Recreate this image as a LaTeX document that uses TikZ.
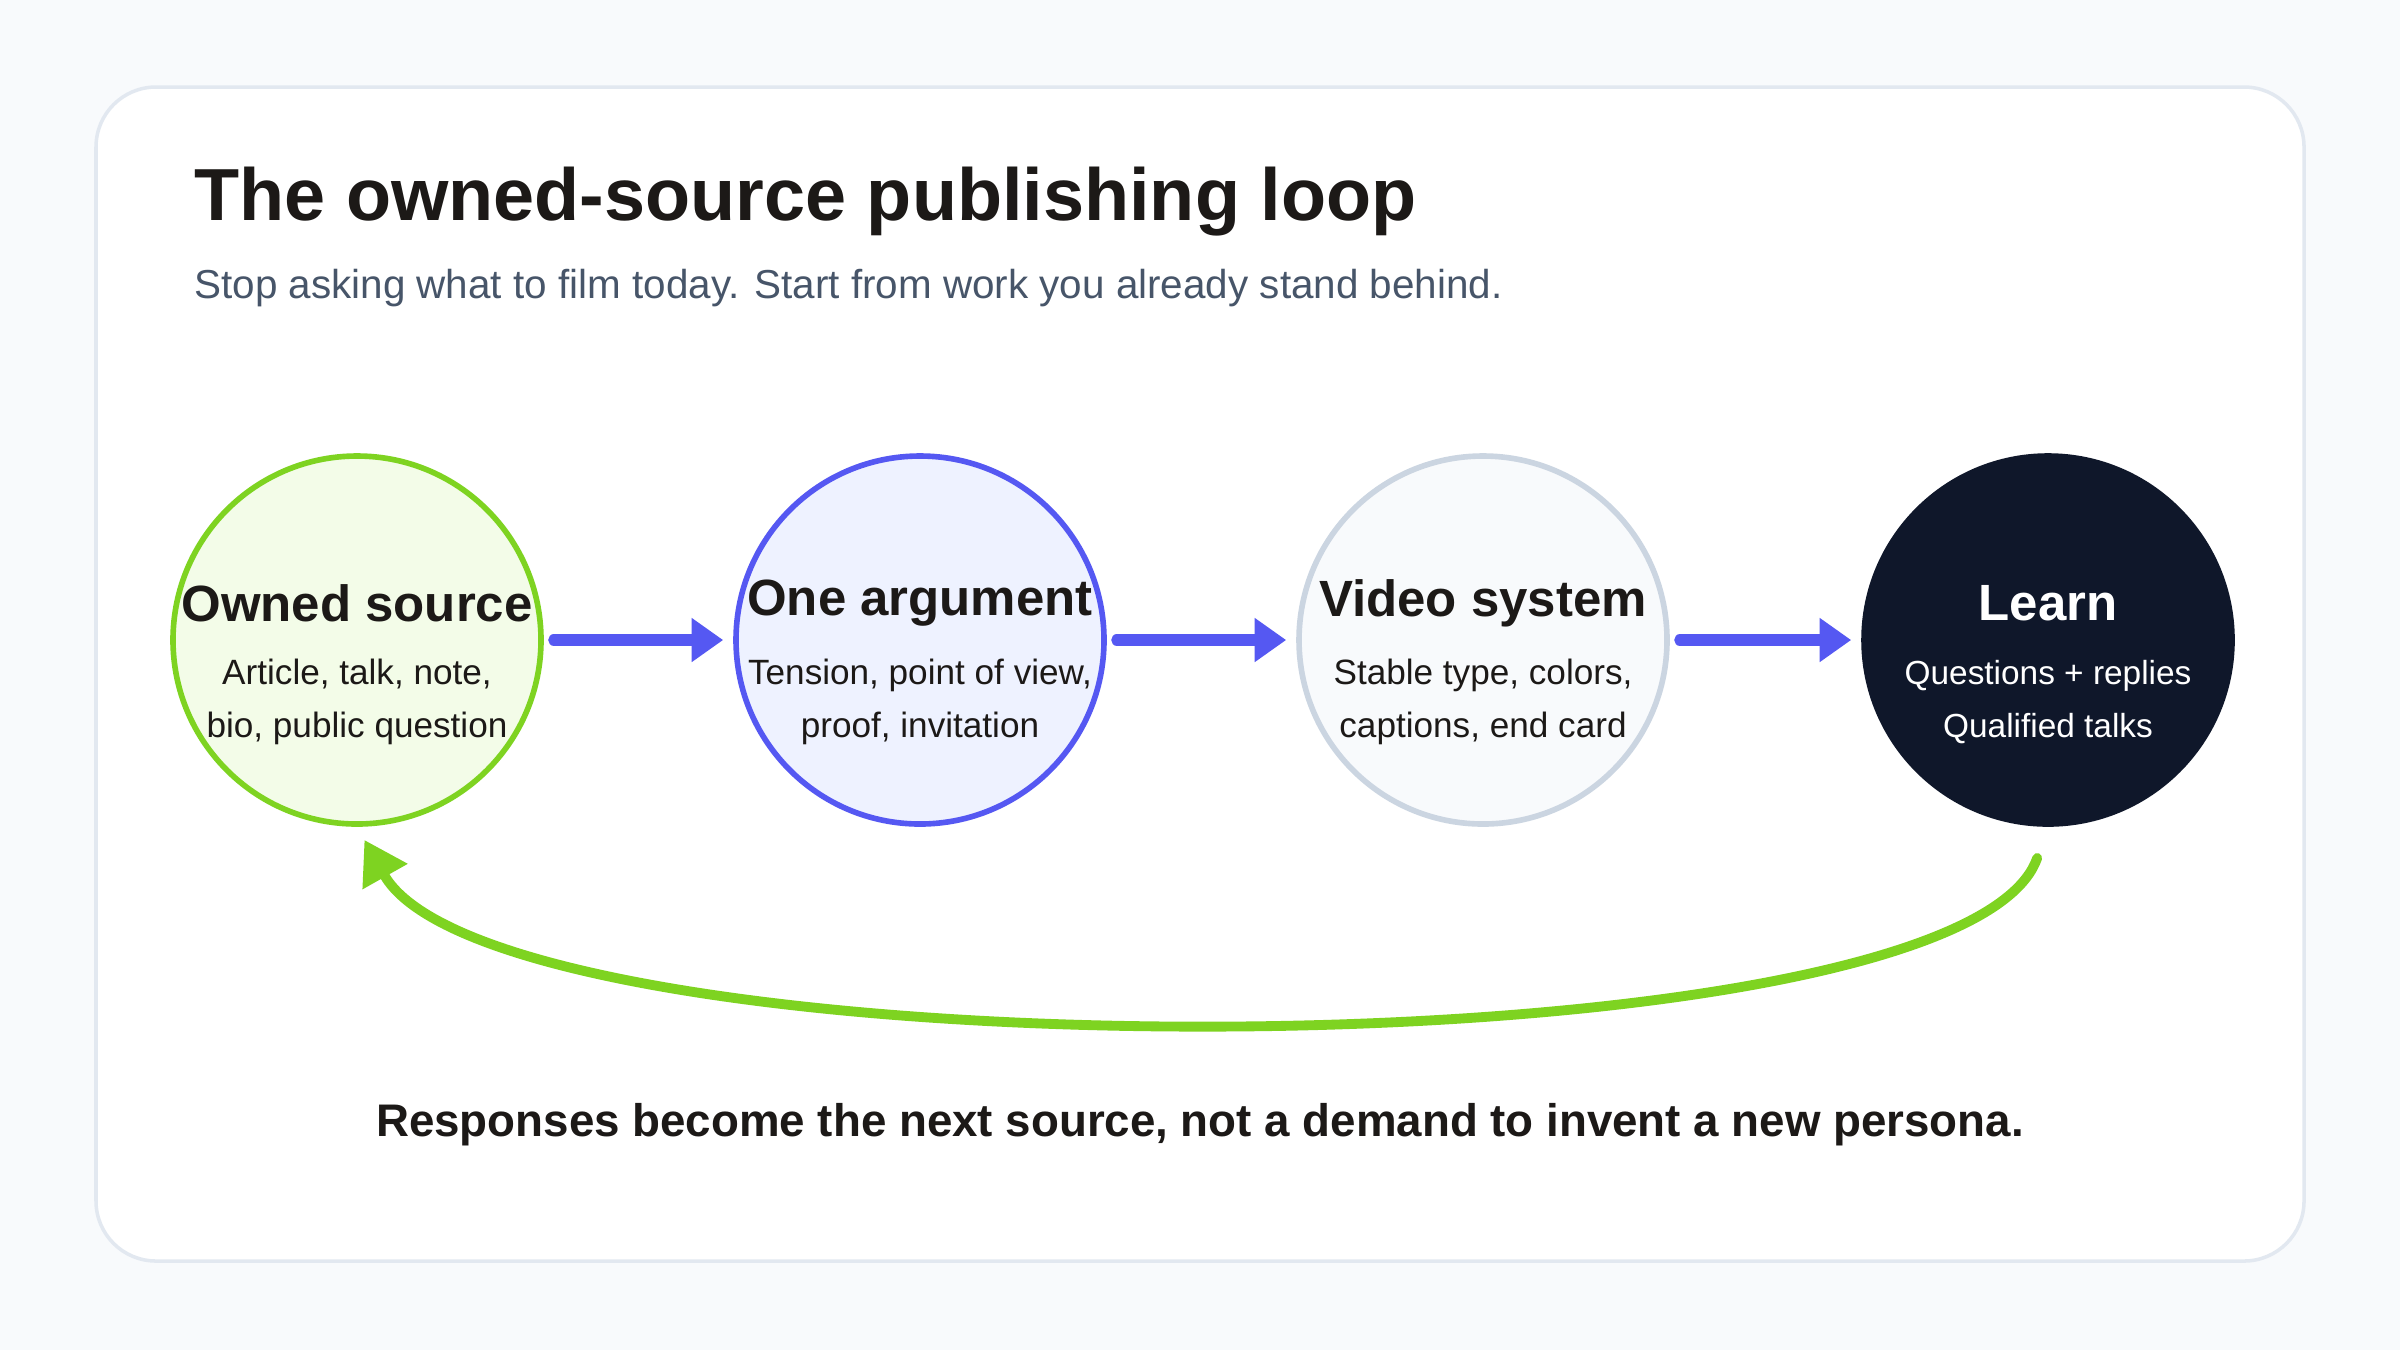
\documentclass[tikz,border=0pt]{standalone}
\usepackage{fontspec}
\setmainfont{Liberation Sans}
\usetikzlibrary{arrows.meta, positioning}
\definecolor{pagebg}{HTML}{F8FAFC}
\definecolor{cardline}{HTML}{E2E8F0}
\definecolor{ink}{HTML}{1C1917}
\definecolor{slate}{HTML}{475569}
\definecolor{lime}{HTML}{7ED321}
\definecolor{limebg}{HTML}{F3FCE8}
\definecolor{indigo}{HTML}{5558F2}
\definecolor{indigobg}{HTML}{EEF2FF}
\definecolor{grayline}{HTML}{CBD5E1}
\definecolor{navy}{HTML}{0F172A}
\tikzset{
    stage/.style={circle, minimum size=3.68cm, line width=1.6pt, inner sep=0pt},
    head/.style={font=\bfseries\fontsize{14.5}{17}\selectfont, text=ink},
    body/.style={font=\fontsize{10}{15}\selectfont, text=ink, align=center},
    flow/.style={-{Triangle[length=9pt,width=12pt]}, line width=3.2pt, indigo, line cap=round},
}
\begin{document}
\begin{tikzpicture}
    \useasboundingbox[fill=pagebg] (0,0) rectangle (24,-13.5);
    \draw[cardline, fill=white, line width=1pt, rounded corners=0.6cm] (0.96,-0.87) rectangle (23.04,-12.61);

    \node[anchor=base west, font=\bfseries\fontsize{21}{25}\selectfont, text=ink] (title) at (1.82,-2.2) {The owned-source publishing loop};
    \node[anchor=base west, font=\fontsize{11.5}{14}\selectfont, text=slate] (sub) at (1.82,-2.98) {Stop asking what to film today. Start from work you already stand behind.};

    % stages
    \node[stage, draw=lime, fill=limebg] (own) at (3.57,-6.4) {};
    \node[stage, draw=indigo, fill=indigobg] (arg) at (9.20,-6.4) {};
    \node[stage, draw=grayline, fill=pagebg] (vid) at (14.83,-6.4) {};
    \node[stage, draw=navy, fill=navy] (learn) at (20.48,-6.4) {};

    \node[head] at ([yshift=0.37cm]own.center) {Owned source};
    \node[body] at ([yshift=-0.62cm]own.center) {Article, talk, note,\\bio, public question};
    \node[head] at ([yshift=0.37cm]arg.center) {One argument};
    \node[body] at ([yshift=-0.62cm]arg.center) {Tension, point of view,\\proof, invitation};
    \node[head] at ([yshift=0.37cm]vid.center) {Video system};
    \node[body] at ([yshift=-0.62cm]vid.center) {Stable type, colors,\\captions, end card};
    \node[head, text=white] at ([yshift=0.37cm]learn.center) {Learn};
    \node[body, text=white, font=\fontsize{9.5}{15}\selectfont] at ([yshift=-0.62cm]learn.center) {Questions + replies\\Qualified talks};

    \draw[flow, shorten <=0.1cm, shorten >=0.1cm] (own) -- (arg);
    \draw[flow, shorten <=0.1cm, shorten >=0.1cm] (arg) -- (vid);
    \draw[flow, shorten <=0.1cm, shorten >=0.1cm] (vid) -- (learn);

    % loop back
    \draw[lime, line width=2.8pt, line cap=round, -{Triangle[length=12pt,width=14pt]}, shorten <=0.33cm, shorten >=0.15cm]
        (learn.south) .. controls (19.6,-10.8) and (5.0,-10.8) .. (own.south);

    \node[font=\bfseries\fontsize{13}{16}\selectfont, text=ink] (note) at (12.0,-11.25) {Responses become the next source, not a demand to invent a new persona.};
\end{tikzpicture}
\end{document}
